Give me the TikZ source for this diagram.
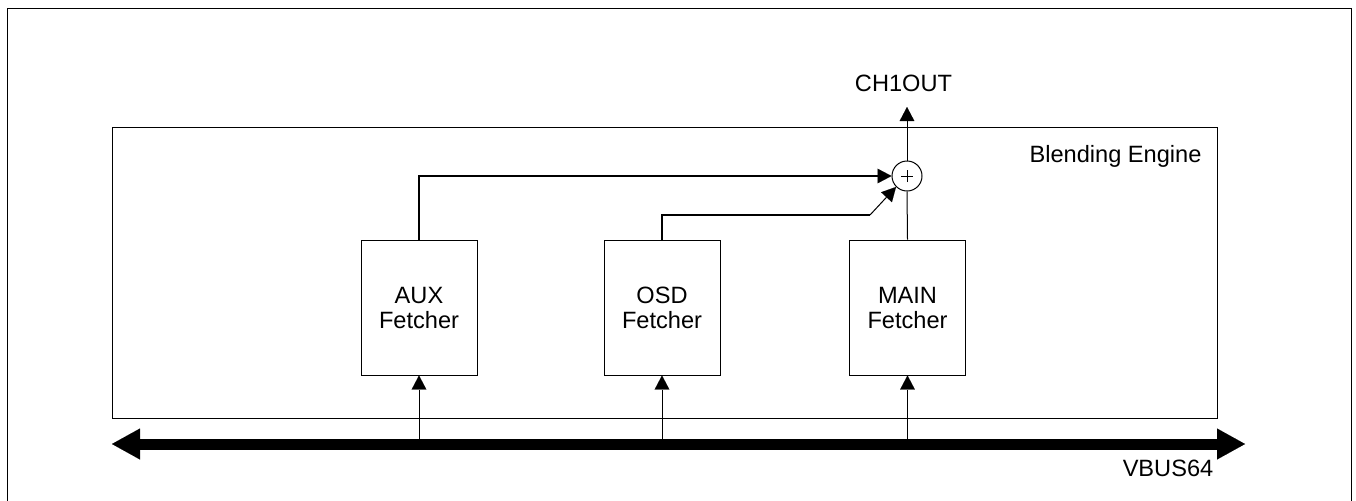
\documentclass[tikz,border=0pt]{standalone}
\usepackage{fontspec}
\setmainfont{Liberation Sans}
\usetikzlibrary{arrows.meta}
\begin{document}
\begin{tikzpicture}[x=0.75pt,y=-0.75pt,
  lbl/.style={font=\fontsize{17.7pt}{18.75pt}\selectfont, inner sep=0pt},
  fetcher/.style={draw, line width=0.75pt, minimum width=87pt, minimum height=101.25pt, align=center, lbl},
  thinln/.style={line width=0.75pt},
  feed/.style={line width=1.5pt},
  tip/.style={-{Triangle[length=10.5pt,width=11pt,line width=0.01pt]}},
  bus/.style={line width=8.25pt, {Triangle[length=21pt,width=23.25pt,line width=0.01pt]}-{Triangle[length=21pt,width=23.25pt,line width=0.01pt]}}
]
\useasboundingbox (0,0) rectangle (1356,500);
\draw[thinln] (7,505) -- (7,8) -- (1351,8) -- (1351,505);

\node[draw, thinln, minimum width=828.75pt, minimum height=218.25pt, inner sep=0pt] (engine) at (664.5,272.5) {};
\node[lbl] (engname) at (1115.5,156) {Blending Engine};

\node[fetcher] (aux) at (419,307.5) {AUX\\Fetcher};
\node[fetcher] (osd) at (662,307.5) {OSD\\Fetcher};
\node[fetcher] (main) at (907.5,307.5) {MAIN\\Fetcher};

\node[circle, draw, thinln, minimum size=22.5pt, inner sep=0pt] (sum) at (907,176) {};
\draw[thinln] ([xshift=-4.5pt]sum.center) -- ([xshift=4.5pt]sum.center)
              ([yshift=-4.5pt]sum.center) -- ([yshift=4.5pt]sum.center);

\node[lbl] (ch1out) at (903.5,83) {CH1OUT};
\coordinate (outtip) at (907,107);
\draw[thinln, tip] (sum.north) -- (outtip);

\draw[feed, tip] (aux.north) |- (sum.west);
\coordinate (osdbend) at (870,215);
\draw[feed] (osd.north) |- (osdbend);
\draw[thinln, tip] (osdbend) -- (sum.south west);
\draw[thinln] (main.north) -- (sum.south);

\coordinate (busL) at (112,444);
\coordinate (busR) at (1245,444);
\draw[bus] (busL) -- (busR);
\foreach \f in {aux,osd,main} \draw[thinln, tip] (\f.south |- busL) -- (\f.south);

\node[lbl] (vbus) at (1168,468) {VBUS64};
\end{tikzpicture}
\end{document}
